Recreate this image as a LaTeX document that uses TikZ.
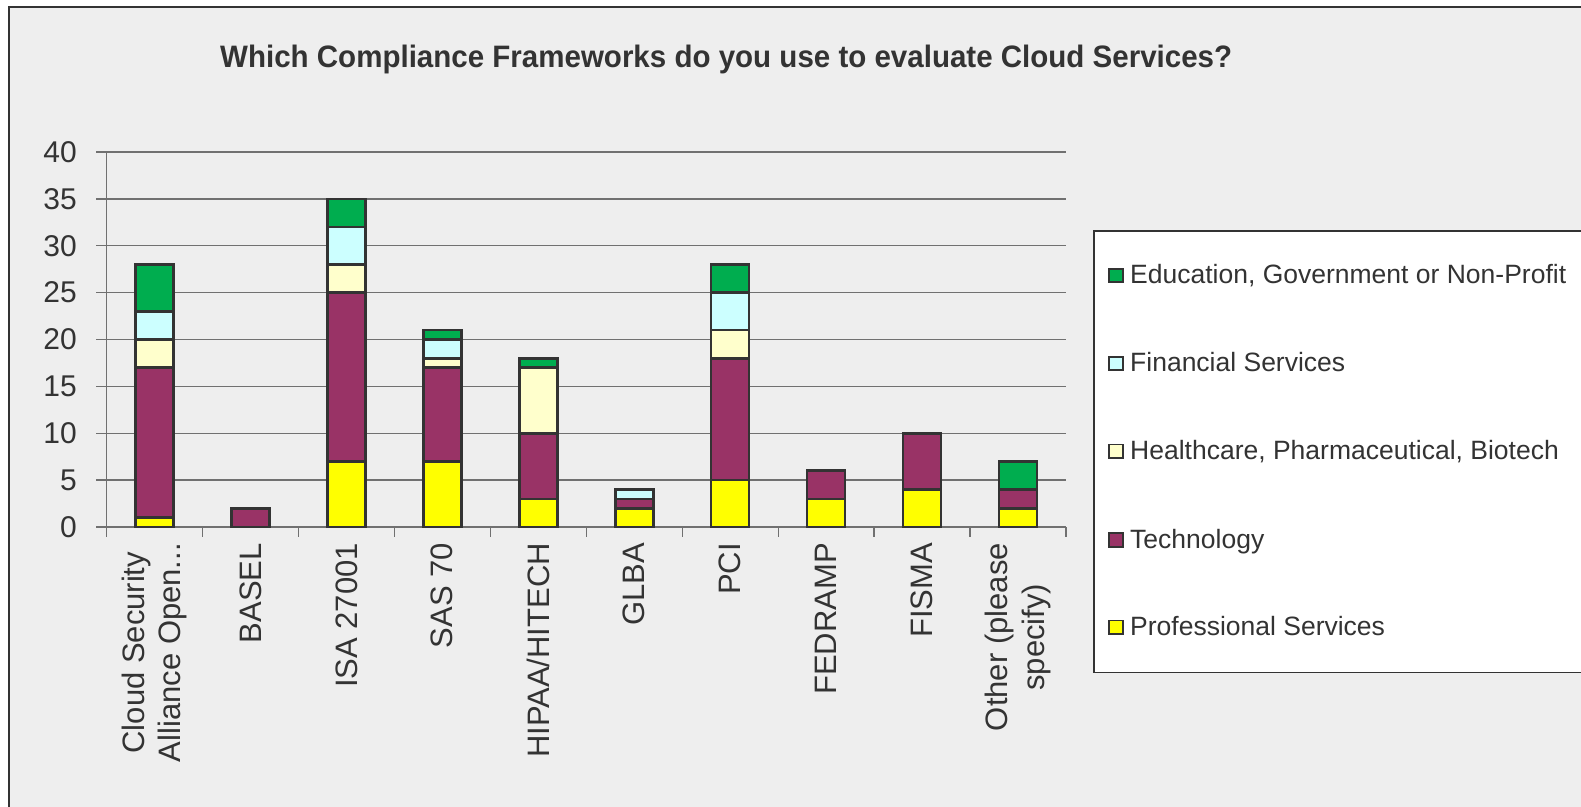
\documentclass[tikz,border=0pt]{standalone}
\usepackage{fontspec}
\setmainfont{Liberation Sans}
\usepackage{graphicx}
\definecolor{bg}{HTML}{EEEEEE}
\definecolor{edu}{HTML}{00AD4F}
\definecolor{fin}{HTML}{CCFFFF}
\definecolor{hea}{HTML}{FFFFCC}
\definecolor{tec}{HTML}{993366}
\definecolor{pro}{HTML}{FFFF00}
\definecolor{txt}{HTML}{333333}
\definecolor{gridc}{HTML}{707070}
\newcommand\stackseg[4]{%
  \ifdim #3pt>#2pt
    \draw[seg,fill=#4] (#1-19,527-9.375*#2) rectangle (#1+19,527-9.375*#3);
  \fi}
\begin{document}
\begin{tikzpicture}[x=1pt,y=-1pt,
  gridline/.style={draw=gridc,line width=1.3pt},
  seg/.style={draw=txt,line width=2.6pt},
  ylab/.style={anchor=east,inner sep=0,text=txt,font=\fontsize{30}{30}\selectfont},
  catlab/.style={rotate=90,anchor=east,inner sep=0,align=center,text=txt,font=\fontsize{31}{36.6}\selectfont},
  legtext/.style={anchor=base west,inner sep=0,text=txt,font=\fontsize{26.5}{30}\selectfont},
  legmark/.style={draw=txt,line width=1.8pt,minimum size=13.5pt,inner sep=0}
]
\useasboundingbox (0,0) rectangle (1581,806);
\fill[white] (0,0) rectangle (1581,806);
\clip (0,0) rectangle (1581,806);
\draw[fill=bg,draw=txt,line width=2pt] (9,7) rectangle (1620,840);

% title
\node[anchor=base west,inner sep=0,text=txt] (title) at (220,67.3)
  {\resizebox{1012pt}{\height}{\fontsize{31}{36}\selectfont\bfseries Which Compliance Frameworks do you use to evaluate Cloud Services?}};

% grid and y labels
\foreach \v in {0,5,...,40}{
  \draw[gridline] (96,527-9.375*\v) -- (1066,527-9.375*\v);
  \node[ylab] (y\v) at (77,527-9.375*\v) {\v};
}
\draw[gridline] (106.5,152) -- (106.5,527);
\foreach \k in {0,...,10}{
  \draw[gridline] (106.5+95.95*\k,527) -- (106.5+95.95*\k,537);
}

% bars
\foreach \k/\a/\b/\c/\d/\e in {0/1/16/3/3/5, 1/0/2/0/0/0, 2/7/18/3/4/3, 3/7/10/1/2/1, 4/3/7/7/0/1,
    5/2/1/0/1/0, 6/5/13/3/4/3, 7/3/3/0/0/0, 8/4/6/0/0/0, 9/2/2/0/0/3}{
  \pgfmathsetmacro\cx{106.5+95.95*(\k+0.5)}
  \pgfmathsetmacro\sa{\a}
  \pgfmathsetmacro\sb{\a+\b}
  \pgfmathsetmacro\sc{\a+\b+\c}
  \pgfmathsetmacro\sd{\a+\b+\c+\d}
  \pgfmathsetmacro\se{\a+\b+\c+\d+\e}
  \stackseg{\cx}{0}{\sa}{pro}
  \stackseg{\cx}{\sa}{\sb}{tec}
  \stackseg{\cx}{\sb}{\sc}{hea}
  \stackseg{\cx}{\sc}{\sd}{fin}
  \stackseg{\cx}{\sd}{\se}{edu}
}

% category labels
\node[catlab] (c0) at (154.5,543) {Cloud Security\\Alliance Open...};
\node[catlab] (c1) at (250.4,543) {BASEL};
\node[catlab] (c2) at (346.4,543) {ISA 27001};
\node[catlab] (c3) at (442.3,543) {SAS 70};
\node[catlab] (c4) at (538.3,543) {HIPAA/HITECH};
\node[catlab] (c5) at (634.2,543) {GLBA};
\node[catlab] (c6) at (730.2,543) {PCI};
\node[catlab] (c7) at (826.1,543) {FEDRAMP};
\node[catlab] (c8) at (922.1,543) {FISMA};
\node[catlab] (c9) at (1018.0,543) {Other (please\\specify)};

% legend
\draw[fill=white,draw=txt,line width=1.5pt] (1094,231) rectangle (1640,672.7);
\node[legmark,fill=edu] (m1) at (1116,275.5) {};
\node[legmark,fill=fin] (m2) at (1116,363.5) {};
\node[legmark,fill=hea] (m3) at (1116,451.3) {};
\node[legmark,fill=tec] (m4) at (1116,540) {};
\node[legmark,fill=pro] (m5) at (1116,627.3) {};
\node[legtext] (l1) at (1130,283.3) {Education, Government or Non-Profit};
\node[legtext] (l2) at (1130,371.6) {Financial Services};
\node[legtext] (l3) at (1130,459.6) {Healthcare, Pharmaceutical, Biotech};
\node[legtext] (l4) at (1130,548.3) {Technology};
\node[legtext] (l5) at (1130,635.7) {Professional Services};
\end{tikzpicture}
\end{document}
